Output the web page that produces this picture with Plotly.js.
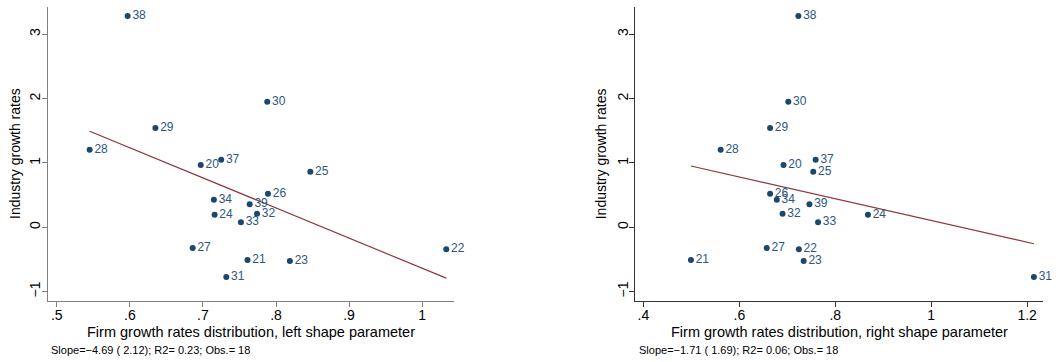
<!DOCTYPE html>
<html>
<head>
<meta charset="utf-8">
<script src="https://cdn.plot.ly/plotly-3.0.1.min.js"></script>
<style>html,body{margin:0;padding:0;background:#fff}#chart{width:1056px;height:362px}</style>
</head>
<body>
<div id="chart"></div>
<script>
// Industry codes (labels on points)
const industries = ["20","21","22","23","24","25","26","27","28","29","30","31","32","33","34","37","38","39"];
// Industry growth rates (y, shared by both panels)
const growth = [0.969,-0.508,-0.342,-0.524,0.196,0.865,0.523,-0.322,1.207,1.544,1.953,-0.773,0.212,0.078,0.430,1.051,3.286,0.358];
// Left shape parameter (x of left panel)
const leftShape = [0.697,0.761,1.033,0.819,0.716,0.847,0.789,0.686,0.545,0.635,0.788,0.732,0.774,0.752,0.715,0.725,0.597,0.764];
// Right shape parameter (x of right panel)
const rightShape = [0.692,0.499,0.724,0.734,0.868,0.754,0.664,0.657,0.561,0.664,0.702,1.214,0.690,0.764,0.678,0.759,0.723,0.746];

const leftTickVals = [0.5,0.6,0.7,0.8,0.9,1.0];
const leftTickText = [".5",".6",".7",".8",".9","1"];
const rightTickVals = [0.4,0.6,0.8,1.0,1.2];
const rightTickText = [".4",".6",".8","1","1.2"];
const yTickVals = [-1,0,1,2,3];
const yTickText = ["\u22121","0","1","2","3"];

const xTitles = ["Firm growth rates distribution, left shape parameter","Firm growth rates distribution, right shape parameter"];
const yTitle = "Industry growth rates";
const notes = ["Slope=\u22124.69 ( 2.12); R2= 0.23; Obs.= 18","Slope=\u22121.71 ( 1.69); R2= 0.06; Obs.= 18"];

function ols(x, y){
  const n = x.length;
  const mx = x.reduce((a,b)=>a+b,0)/n, my = y.reduce((a,b)=>a+b,0)/n;
  let sxy=0, sxx=0;
  for(let i=0;i<n;i++){sxy+=(x[i]-mx)*(y[i]-my); sxx+=(x[i]-mx)**2;}
  const b = sxy/sxx, a = my - b*mx;
  const x0 = Math.min(...x), x1 = Math.max(...x);
  return {x:[x0,x1], y:[a+b*x0, a+b*x1]};
}

const navy = "#1a476f";
const maroon = "#90353b";
const FONT = "Liberation Sans, Arial, Helvetica, sans-serif";

function scatter(x, xa, ya){
  return {x:x, y:growth, text:industries, mode:"markers+text", type:"scatter",
    textposition:"middle right", cliponaxis:false,
    marker:{color:navy, size:6}, textfont:{family:FONT, size:12, color:"#2b5783"},
    xaxis:xa, yaxis:ya, hoverinfo:"skip", showlegend:false};
}
function fit(x, xa, ya){
  const f = ols(x, growth);
  return {x:f.x, y:f.y, mode:"lines", type:"scatter", line:{color:maroon, width:1.2},
    xaxis:xa, yaxis:ya, hoverinfo:"skip", showlegend:false};
}

const W=1056, H=362;
const plotTop = 7.3, plotBot = 300.7;
const yd = [1-plotBot/H, 1-plotTop/H];
const lx = [48/W, 454.3/W], rx = [635.3/W, 1043/W];

function xaxis(dom, range, tv, tt, col, lw, anchor){
  return {domain:dom, range:range, tickvals:tv, ticktext:tt, showgrid:false, zeroline:false,
    showline:true, linecolor:col, linewidth:lw, ticks:"outside", ticklen:5, tickcolor:col, tickwidth:1,
    ticklabelstandoff:-4,
    tickfont:{family:FONT, size:14, color:"#000"}, anchor:anchor, fixedrange:true};
}
function yaxis(range, col, lw, anchor){
  return {domain:yd, range:range, tickvals:yTickVals, ticktext:yTickText, tickangle:-90,
    showgrid:false, zeroline:false, showline:true, linecolor:col, linewidth:lw,
    ticks:"outside", ticklen:5, tickcolor:col, tickwidth:1, ticklabelstandoff:-4,
    tickfont:{family:FONT, size:14, color:"#000"}, anchor:anchor, fixedrange:true};
}

const yr = [-1.141, 3.42];
const layout = {
  width:W, height:H, margin:{l:0,r:0,t:0,b:0}, paper_bgcolor:"#fff", plot_bgcolor:"#fff",
  font:{family:FONT},
  xaxis: xaxis(lx, [0.488,1.044], leftTickVals, leftTickText, "#808080", 1.5, "y"),
  yaxis: yaxis(yr, "#808080", 1.5, "x"),
  xaxis2: xaxis(rx, [0.383,1.233], rightTickVals, rightTickText, "#333", 1, "y2"),
  yaxis2: yaxis(yr, "#333", 1, "x2"),
  annotations:[
    {text:xTitles[0], xref:"paper", yref:"paper", x:(lx[0]+lx[1])/2, y:1-331.7/H, xanchor:"center", yanchor:"middle", showarrow:false, font:{family:FONT,size:14.5,color:"#000"}},
    {text:xTitles[1], xref:"paper", yref:"paper", x:(rx[0]+rx[1])/2, y:1-331.7/H, xanchor:"center", yanchor:"middle", showarrow:false, font:{family:FONT,size:14.5,color:"#000"}},
    {text:yTitle, xref:"paper", yref:"paper", x:15/W, y:(yd[0]+yd[1])/2, textangle:-90, xanchor:"center", yanchor:"middle", showarrow:false, font:{family:FONT,size:14,color:"#000"}},
    {text:yTitle, xref:"paper", yref:"paper", x:601.3/W, y:(yd[0]+yd[1])/2, textangle:-90, xanchor:"center", yanchor:"middle", showarrow:false, font:{family:FONT,size:14,color:"#000"}},
    {text:notes[0], xref:"paper", yref:"paper", x:49/W, y:1-350/H, xanchor:"left", yanchor:"middle", showarrow:false, font:{family:FONT,size:11,color:"#000"}},
    {text:notes[1], xref:"paper", yref:"paper", x:637/W, y:1-350/H, xanchor:"left", yanchor:"middle", showarrow:false, font:{family:FONT,size:11,color:"#000"}}
  ]
};

Plotly.newPlot("chart", [
  fit(leftShape,"x","y"), scatter(leftShape,"x","y"),
  fit(rightShape,"x2","y2"), scatter(rightShape,"x2","y2")
], layout, {displayModeBar:false, staticPlot:true});
</script>
</body>
</html>
